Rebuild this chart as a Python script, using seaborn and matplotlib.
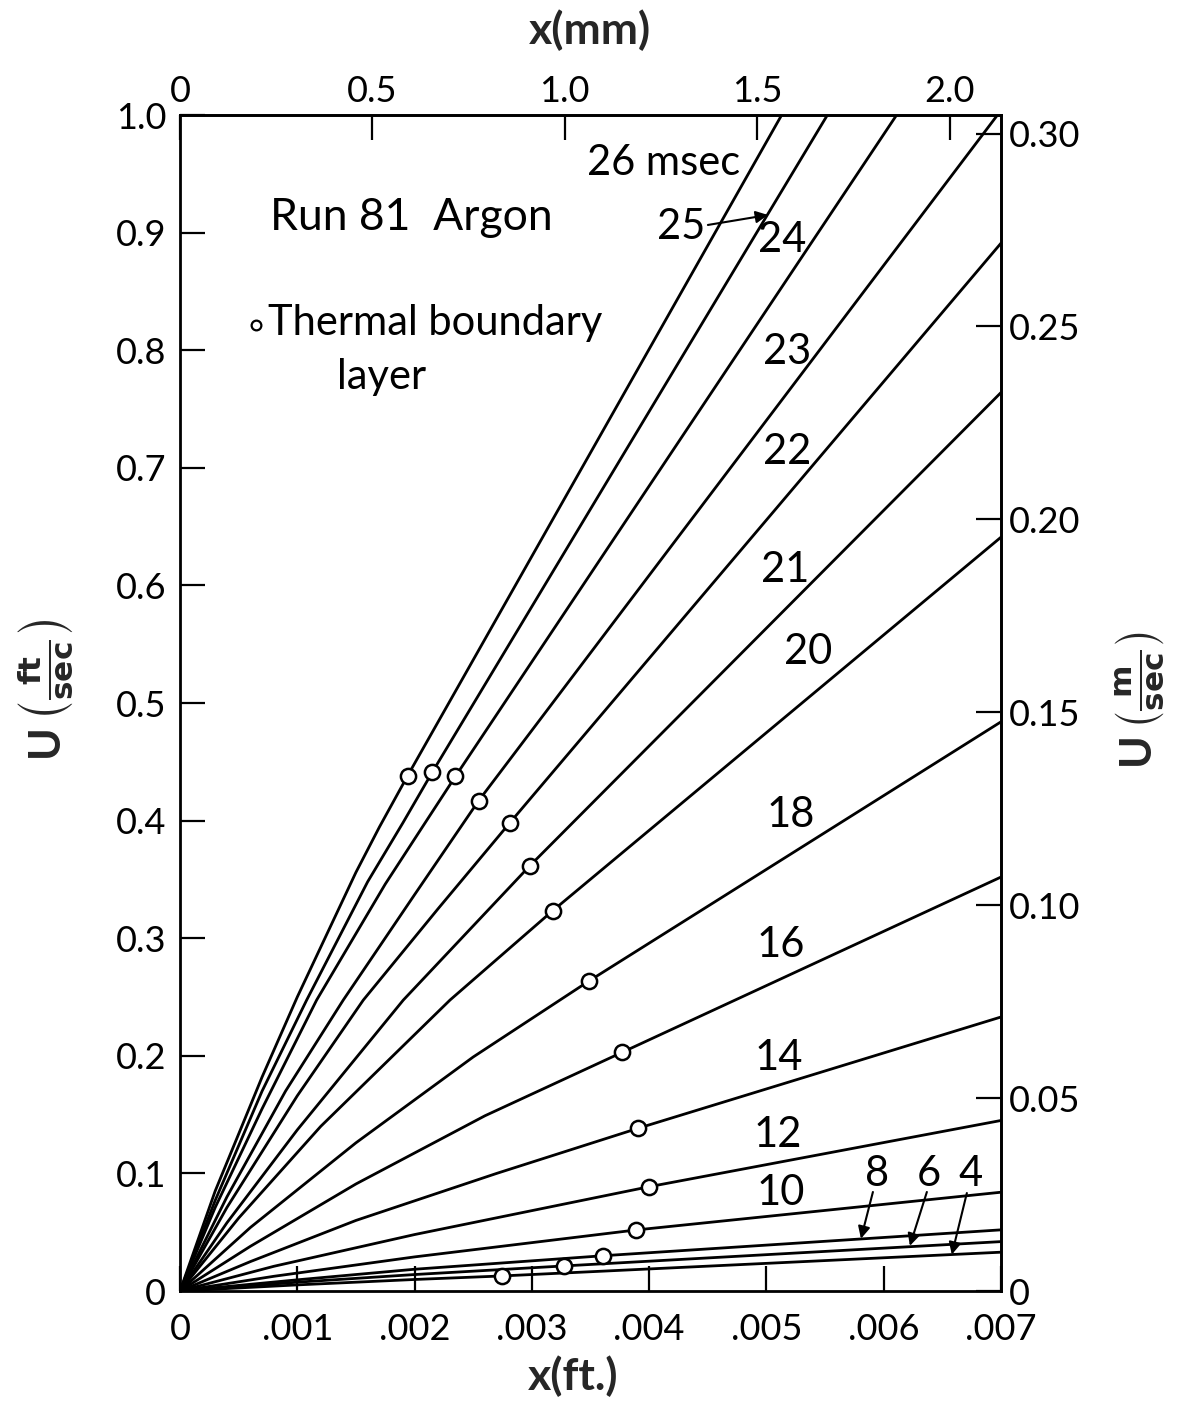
import matplotlib
matplotlib.use("Agg")
import matplotlib.pyplot as plt
import numpy as np
import pandas as pd
import seaborn as sns

# ---------------- data ----------------
# x in ft, U in ft/sec ; one curve per time (msec)
x26 = [0, 0.0003, 0.0007, 0.001, 0.0015, 0.0017, 0.00194, 0.00513]
u26 = [0, 0.085, 0.182, 0.250, 0.356, 0.3945, 0.438, 1.0]
x25 = [0, 0.0003, 0.0007, 0.00108, 0.0016, 0.0019, 0.00215, 0.00552]
u25 = [0, 0.077, 0.170, 0.2474, 0.348, 0.398, 0.441, 1.0]
x24 = [0, 0.0003, 0.0007, 0.001165, 0.00175, 0.00205, 0.002349, 0.00611]
u24 = [0, 0.071, 0.155, 0.2474, 0.346, 0.392, 0.4377, 1.0]
x23 = [0, 0.0004, 0.0009, 0.001392, 0.002, 0.002547, 0.00697]
u23 = [0, 0.080, 0.170, 0.2474, 0.337, 0.417, 1.0]
x22 = [0, 0.0004, 0.001, 0.001563, 0.0022, 0.002813, 0.007]
u22 = [0, 0.071, 0.166, 0.2474, 0.325, 0.3982, 0.891]
x21 = [0, 0.0004, 0.001, 0.001904, 0.002983, 0.007]
u21 = [0, 0.058, 0.137, 0.2474, 0.3616, 0.764]
x20 = [0, 0.0005, 0.0012, 0.002302, 0.003177, 0.007]
u20 = [0, 0.062, 0.140, 0.2474, 0.3233, 0.641]
x18 = [0, 0.0006, 0.0015, 0.0025, 0.003487, 0.007]
u18 = [0, 0.054, 0.126, 0.199, 0.2636, 0.484]
x16 = [0, 0.0006, 0.0015, 0.0026, 0.003771, 0.007]
u16 = [0, 0.038, 0.091, 0.149, 0.203, 0.352]
x14 = [0, 0.0006, 0.0015, 0.0027, 0.003907, 0.007]
u14 = [0, 0.025, 0.060, 0.100, 0.1384, 0.233]
x12 = [0, 0.0008, 0.002, 0.004001, 0.007]
u12 = [0, 0.021, 0.048, 0.0887, 0.145]
x10 = [0, 0.0008, 0.002, 0.003888, 0.007]
u10 = [0, 0.0125, 0.029, 0.0519, 0.084]
x8 = [0, 0.001, 0.002, 0.003609, 0.007]
u8 = [0, 0.0095, 0.0185, 0.030, 0.052]
x6 = [0, 0.001, 0.002, 0.003271, 0.007]
u6 = [0, 0.0075, 0.014, 0.0213, 0.042]
x4 = [0, 0.001, 0.002, 0.002745, 0.007]
u4 = [0, 0.0052, 0.0098, 0.0128, 0.033]

CURVE_TIMES = [26, 25, 24, 23, 22, 21, 20, 18, 16, 14, 12, 10, 8, 6, 4]
CURVE_X = [x26, x25, x24, x23, x22, x21, x20, x18, x16, x14, x12, x10, x8, x6, x4]
CURVE_U = [u26, u25, u24, u23, u22, u21, u20, u18, u16, u14, u12, u10, u8, u6, u4]

# thermal boundary layer points (one per curve, same order)
BL_X = [0.00194, 0.00215, 0.002349, 0.002547, 0.002813, 0.002983, 0.003177,
        0.003487, 0.003771, 0.003907, 0.004001, 0.003888, 0.003609, 0.003271, 0.002745]
BL_U = [0.438, 0.441, 0.4377, 0.417, 0.3982, 0.3616, 0.3233,
        0.2636, 0.203, 0.1384, 0.0887, 0.0519, 0.030, 0.0213, 0.0128]

# curve labels
LABEL_TEXT = ['26 msec', '25', '24', '23', '22', '21', '20', '18', '16', '14',
              '12', '10', '8', '6', '4']
LABEL_X = [0.004126, 0.004271, 0.005132, 0.005175, 0.005175, 0.005158, 0.005354,
           0.005209, 0.005124, 0.005107, 0.005098, 0.005124, 0.005942, 0.006385, 0.006743]
LABEL_Y = [0.959, 0.905, 0.894, 0.7985, 0.7134, 0.613, 0.5434,
           0.4048, 0.2942, 0.198, 0.1327, 0.0833, 0.0995, 0.0995, 0.0995]

# label arrows (start -> tip)
ARROW_FROM_X = [0.004501, 0.005908, 0.006368, 0.006709]
ARROW_FROM_Y = [0.9065, 0.0842, 0.0842, 0.0833]
ARROW_TO_X = [0.005013, 0.005806, 0.006223, 0.006581]
ARROW_TO_Y = [0.915, 0.0445, 0.0384, 0.031]

X_TICKS = [0, 0.001, 0.002, 0.003, 0.004, 0.005, 0.006, 0.007]
X_TICKLABELS = ['0', '.001', '.002', '.003', '.004', '.005', '.006', '.007']
Y_TICKS = [0, 0.1, 0.2, 0.3, 0.4, 0.5, 0.6, 0.7, 0.8, 0.9, 1.0]
Y_TICKLABELS = ['0', '0.1', '0.2', '0.3', '0.4', '0.5', '0.6', '0.7', '0.8', '0.9', '1.0']
MM_TICKS = [0, 0.5, 1.0, 1.5, 2.0]
MM_TICKLABELS = ['0', '0.5', '1.0', '1.5', '2.0']
MS_TICKS = [0, 0.05, 0.10, 0.15, 0.20, 0.25, 0.30]
MS_TICKLABELS = ['0', '0.05', '0.10', '0.15', '0.20', '0.25', '0.30']

FT_TO_MM = 304.8
FT_TO_M = 0.3048

# ---------------- style ----------------
sns.set_theme(style="ticks")
plt.rcParams['font.family'] = ['Lato', 'DejaVu Sans']
plt.rcParams['mathtext.fontset'] = 'dejavusans'

fig = plt.figure(figsize=(11.81, 14.02), dpi=100)
ax = fig.add_axes([0.15241, 0.07917, 0.69517, 0.83880])

rows = []
for t, xs, us in zip(CURVE_TIMES, CURVE_X, CURVE_U):
    for xv, uv in zip(xs, us):
        rows.append({'x': xv, 'u': uv, 'curve': t})
df = pd.DataFrame(rows)

sns.lineplot(data=df, x='x', y='u', units='curve', estimator=None, sort=False,
             color='black', linewidth=2.0, ax=ax, legend=False)
sns.scatterplot(x=BL_X, y=BL_U, marker='o', s=120, facecolor='white',
                edgecolor='black', linewidth=1.8, zorder=5, ax=ax, legend=False)

ax.set_xlim(0, 0.007)
ax.set_ylim(0, 1.0)

for sp in ax.spines.values():
    sp.set_visible(True)
    sp.set_linewidth(2.0)
    sp.set_color('black')

ax.set_xticks(X_TICKS)
ax.set_xticklabels(X_TICKLABELS)
ax.set_yticks(Y_TICKS)
ax.set_yticklabels(Y_TICKLABELS)
ax.tick_params(axis='x', direction='in', length=18, width=1.6, labelsize=26,
               pad=16, colors='black', top=False)
ax.tick_params(axis='y', direction='in', length=18, width=1.6, labelsize=26,
               pad=10, colors='black', right=False)

secx = ax.secondary_xaxis('top', functions=(lambda v: v * FT_TO_MM, lambda v: v / FT_TO_MM))
secx.set_xticks(MM_TICKS)
secx.set_xticklabels(MM_TICKLABELS)
secx.tick_params(direction='in', length=18, width=1.6, labelsize=26, pad=5, colors='black')
secx.spines['top'].set_linewidth(2.0)

secy = ax.secondary_yaxis('right', functions=(lambda v: v * FT_TO_M, lambda v: v / FT_TO_M))
secy.set_yticks(MS_TICKS)
secy.set_yticklabels(MS_TICKLABELS)
secy.tick_params(direction='in', length=18, width=1.6, labelsize=26, pad=6, colors='black')
secy.spines['right'].set_linewidth(2.0)

# axis labels
ax.set_xlabel('x(ft.)', fontsize=32, fontweight='bold')
ax.xaxis.set_label_coords(0.479, -0.055)
ax.set_ylabel(r'U$\,\left(\frac{\mathbf{ft}}{\mathbf{sec}}\right)$', fontsize=32, fontweight='bold')
ax.yaxis.set_label_coords(-0.128, 0.511)
fig.text(590 / 1181, 1 - 30 / 1402, 'x(mm)', fontsize=32, fontweight='bold',
         ha='center', va='center')
fig.text(1140 / 1181, 1 - 700 / 1402, r'U$\,\left(\frac{\mathbf{m}}{\mathbf{sec}}\right)$',
         fontsize=32, fontweight='bold', ha='center', va='center', rotation=90)

# curve labels
for txt, lx, ly in zip(LABEL_TEXT, LABEL_X, LABEL_Y):
    ax.text(lx, ly, txt, fontsize=30, ha='center', va='center', color='black')

for fx, fy, tx, ty in zip(ARROW_FROM_X, ARROW_FROM_Y, ARROW_TO_X, ARROW_TO_Y):
    ax.annotate('', xy=(tx, ty), xytext=(fx, fy),
                arrowprops=dict(arrowstyle='-|>', color='black', lw=1.5,
                                mutation_scale=18, shrinkA=0, shrinkB=0))

# annotations
ax.text(0.00197, 0.913, 'Run 81  Argon', fontsize=32, ha='center', va='center', color='black')
ax.plot([0.000648], [0.8214], marker='o', ms=7, mfc='white', mec='black', mew=1.6, ls='none')
ax.text(0.00075, 0.8235, 'Thermal boundary', fontsize=30, ha='left', va='center', color='black')
ax.text(0.001338, 0.777, 'layer', fontsize=30, ha='left', va='center', color='black')

fig.savefig('out.png', dpi=100, facecolor='white')
